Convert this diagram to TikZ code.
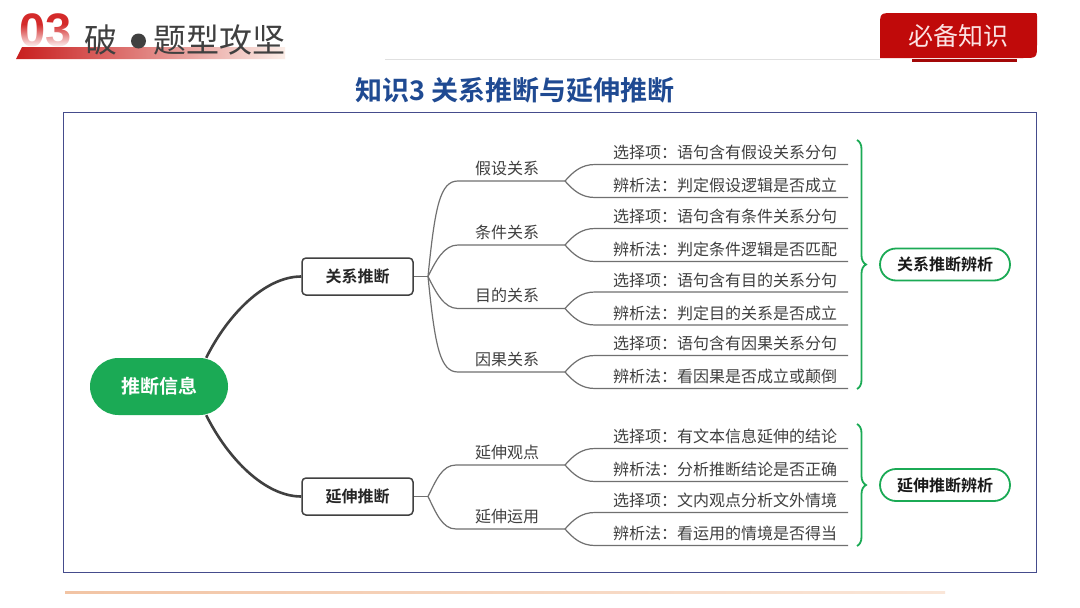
\documentclass[tikz,border=0pt]{standalone}
\usepackage{fontspec}
\setmainfont{Noto Sans CJK SC}[BoldFont={Noto Sans CJK SC Bold}]
\newfontfamily\digitfont{Liberation Sans}
\usetikzlibrary{calc,decorations.pathreplacing,fadings}
\tikzfading[name=fadedown, top color=transparent!100, bottom color=transparent!0]
\definecolor{mgreen}{HTML}{1BAA55}
\definecolor{tgray}{HTML}{404040}
\definecolor{lgray}{HTML}{707070}
\definecolor{frameblue}{HTML}{454C8C}
\definecolor{titleblue}{HTML}{1F4A92}
\definecolor{tabred}{HTML}{C00A0A}
\definecolor{numred}{HTML}{D42A2A}
\definecolor{barA}{HTML}{C81E1E}
\definecolor{barB}{HTML}{EEB3A8}
\definecolor{barC}{HTML}{FBEDE7}
\definecolor{tabtext}{HTML}{FBE3E3}
\definecolor{lineA}{HTML}{F2C4A4}
\definecolor{lineB}{HTML}{FAE6D8}
\begin{document}
\begin{tikzpicture}[x=1pt,y=-1pt,
  branch/.style={draw=lgray,line width=1.2pt},
  leaftext/.style={anchor=base west,inner sep=0,text=tgray,font=\fontsize{16}{18}\selectfont},
  midtext/.style={anchor=base,inner sep=0,text=tgray,font=\fontsize{16}{18}\selectfont},
  catbox/.style={draw=tgray,line width=1.5pt,rounded corners=4pt,minimum width=111pt,minimum height=37pt,inner sep=0,font=\bfseries\fontsize{16}{18}\selectfont,text=black!85},
  sumpill/.style={draw=mgreen,line width=1.8pt,rounded corners=16pt,minimum width=130pt,minimum height=32pt,fill=white,inner sep=0,font=\bfseries\fontsize{16}{18}\selectfont,text=black!90},
  gbrace/.style={draw=mgreen,line width=1.8pt,decorate,decoration={brace,amplitude=9pt}},
  hdrtext/.style={anchor=west,inner sep=0,text=tgray,font=\fontsize{33}{33}\selectfont},
]
\useasboundingbox (0,0) rectangle (1080,608);
\fill[white] (0,0) rectangle (1080,608);

% ---------- header left ----------
\node[anchor=north west,inner sep=0,font=\digitfont\bfseries\fontsize{47}{47}\selectfont,text=numred] (num) at (19,13) {03};
\fill[white,path fading=fadedown] (14,24) rectangle (84,48);
\shade[left color=barA, middle color=barB, right color=barC] (22,47) -- (285,47) -- (285,59) -- (16,59) -- cycle;
\node[hdrtext] (hdra) at (84,40) {破};
\node[circle,fill=tgray,minimum size=15pt,inner sep=0] (dot) at (138.5,41) {};
\node[hdrtext] (hdrb) at (153,40) {题型攻坚};

% ---------- header right ----------
\draw[black!12,line width=0.8pt] (385,59) -- (880,59);
\fill[tabred] (880,58) -- (880,27) .. controls (880,13) .. (894,13) -- (1034,13) .. controls (1037,13) .. (1037,16) -- (1037,44) .. controls (1037,58) .. (1023,58) -- cycle;
\node[inner sep=0,text=tabtext,font=\fontsize{25}{25}\selectfont] (tab) at (958,36) {必备知识};
\fill[tabred!85!black] (912,59) rectangle (1017,62);

% ---------- title and frame ----------
\node[inner sep=0,font=\bfseries\fontsize{27}{27}\selectfont,text=titleblue] (title) at (515,90) {知识3 关系推断与延伸推断};
\draw[frameblue,line width=1pt] (63,112) rectangle (1036,572);
\shade[left color=lineA, right color=lineB] (65,591) rectangle (945,593.5);

% ---------- main nodes ----------
\node[fill=mgreen,rounded corners=28.5pt,minimum width=138pt,minimum height=57pt,inner sep=0,text=white,font=\bfseries\fontsize{19}{19}\selectfont] (root) at (159,386.5) {推断信息};
\node[catbox] (rel) at (357.5,276.5) {关系推断};
\node[catbox] (ext) at (357.5,496.5) {延伸推断};

\draw[draw=black!75,line width=2.6pt] ([xshift=-22pt]root.north east) .. controls +(22,-44) and +(-36,0) .. (rel.west);
\draw[draw=black!75,line width=2.6pt] ([xshift=-22pt]root.south east) .. controls +(22,44) and +(-36,0) .. (ext.west);

% ---------- upper branch ----------
\coordinate (f1) at (428,276.5);
\draw[branch] (rel.east) -- (f1);
\foreach \i/\y/\c in {1/181/a,2/245/b,3/308.5/c,4/372/d}{
  \coordinate (s\c) at (458,\y);
  \coordinate (e\c) at (565,\y);
}
\draw[branch] (f1) .. controls +(7,-70) and +(-18,0) .. (sa) -- (ea);
\draw[branch] (f1) .. controls +(8,-16) and +(-14,0) .. (sb) -- (eb);
\draw[branch] (f1) .. controls +(8,16) and +(-14,0) .. (sc) -- (ec);
\draw[branch] (f1) .. controls +(7,70) and +(-18,0) .. (sd) -- (ed);
\node[midtext] (ma) at (507,174) {假设关系};
\node[midtext] (mb) at (507,238) {条件关系};
\node[midtext] (mc) at (507,301.5) {目的关系};
\node[midtext] (md) at (507,365) {因果关系};

% ---------- lower branch ----------
\coordinate (f2) at (428,496.5);
\draw[branch] (ext.east) -- (f2);
\coordinate (se) at (456,465);
\coordinate (ee) at (565,465);
\coordinate (sf) at (456,529);
\coordinate (ef) at (565,529);
\draw[branch] (f2) .. controls +(8,-16) and +(-14,0) .. (se) -- (ee);
\draw[branch] (f2) .. controls +(8,16) and +(-14,0) .. (sf) -- (ef);
\node[midtext] (me) at (507,458) {延伸观点};
\node[midtext] (mf) at (507,522) {延伸运用};

% ---------- leaves ----------
\foreach \c/\y in {a/181,b/245,c/308.5,d/372,e/465,f/529}{
  \coordinate (u\c) at (595,\y-16.5);
  \coordinate (ue\c) at (848,\y-16.5);
  \coordinate (v\c) at (595,\y+16.5);
  \coordinate (ve\c) at (848,\y+16.5);
  \draw[branch] (e\c) .. controls +(8,-9) and +(-14,0) .. (u\c) -- (ue\c);
  \draw[branch] (e\c) .. controls +(8,9) and +(-14,0) .. (v\c) -- (ve\c);
}
\node[leaftext] (t1) at (613,158.5) {选择项：语句含有假设关系分句};
\node[leaftext] (t2) at (613,191.5) {辨析法：判定假设逻辑是否成立};
\node[leaftext] (t3) at (613,222.5) {选择项：语句含有条件关系分句};
\node[leaftext] (t4) at (613,255.5) {辨析法：判定条件逻辑是否匹配};
\node[leaftext] (t5) at (613,286) {选择项：语句含有目的关系分句};
\node[leaftext] (t6) at (613,319) {辨析法：判定目的关系是否成立};
\node[leaftext] (t7) at (613,349.5) {选择项：语句含有因果关系分句};
\node[leaftext] (t8) at (613,382.5) {辨析法：看因果是否成立或颠倒};
\node[leaftext] (t9) at (613,442.5) {选择项：有文本信息延伸的结论};
\node[leaftext] (t10) at (613,475.5) {辨析法：分析推断结论是否正确};
\node[leaftext] (t11) at (613,506.5) {选择项：文内观点分析文外情境};
\node[leaftext] (t12) at (613,539.5) {辨析法：看运用的情境是否得当};

% ---------- braces and summaries ----------
\coordinate (b1t) at (857,140);
\coordinate (b1b) at (857,389);
\coordinate (b2t) at (857,424);
\coordinate (b2b) at (857,546);
\draw[gbrace] (b1t) -- (b1b);
\draw[gbrace] (b2t) -- (b2b);
\node[sumpill] (sum1) at (945,264.5) {关系推断辨析};
\node[sumpill] (sum2) at (945,485) {延伸推断辨析};
\end{tikzpicture}
\end{document}
